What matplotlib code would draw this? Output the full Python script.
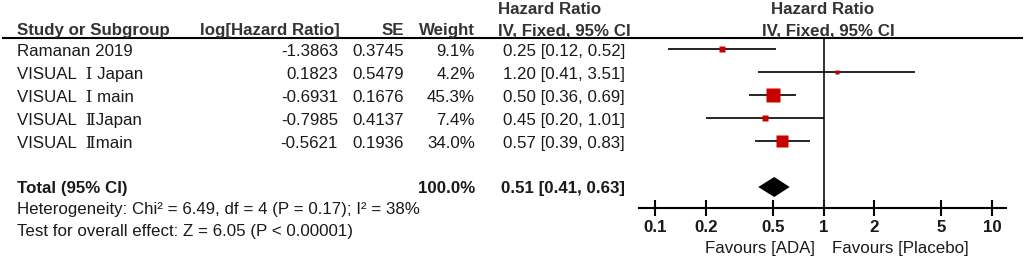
import numpy as np
import matplotlib.pyplot as plt
from matplotlib.lines import Line2D

# study data
studies = ["Ramanan 2019", "VISUAL  Ⅰ Japan", "VISUAL  Ⅰ main", "VISUAL  ⅡJapan", "VISUAL  Ⅱmain"]
log_hr = ["-1.3863", "0.1823", "-0.6931", "-0.7985", "-0.5621"]
se = ["0.3745", "0.5479", "0.1676", "0.4137", "0.1936"]
weight = [9.1, 4.2, 45.3, 7.4, 34.0]
hr = [0.25, 1.20, 0.50, 0.45, 0.57]
ci_low = [0.12, 0.41, 0.36, 0.20, 0.39]
ci_high = [0.52, 3.51, 0.69, 1.01, 0.83]

total_hr, total_low, total_high = 0.51, 0.41, 0.63
heterogeneity = "Heterogeneity: Chi² = 6.49, df = 4 (P = 0.17); I² = 38%"
overall = "Test for overall effect: Z = 6.05 (P < 0.00001)"

ticks = [0.1, 0.2, 0.5, 1, 2, 5, 10]
tick_labels = ["0.1", "0.2", "0.5", "1", "2", "5", "10"]

W, H = 1024, 258
FONT = ["Liberation Sans", "DejaVu Serif", "Noto Sans CJK SC"]
FS = 12.2
TXT = "#1a1a1a"
HDR = "#333333"
RED = "#c80000"

fig = plt.figure(figsize=(W / 100, H / 100), dpi=100)


def put(x, y, s, **kw):
    kw.setdefault("fontsize", FS)
    kw.setdefault("color", TXT)
    fig.text(x / W, 1 - y / H, s, family=FONT, va="center_baseline", **kw)


def row_y(i):
    return 49 + 23 * i


# header
put(17, 29, "Study or Subgroup", fontweight="bold", color=HDR)
put(340, 29, "log[Hazard Ratio]", fontweight="bold", color=HDR, ha="right")
put(404, 29, "SE", fontweight="bold", color=HDR, ha="right")
put(475, 29, "Weight", fontweight="bold", color=HDR, ha="right")
put(550, 8, "Hazard Ratio", fontweight="bold", color=HDR, ha="center")
put(564, 29, "IV, Fixed, 95% CI", fontweight="bold", color=HDR, ha="center")
put(823, 8, "Hazard Ratio", fontweight="bold", color=HDR, ha="center")
put(828, 29, "IV, Fixed, 95% CI", fontweight="bold", color=HDR, ha="center")
fig.add_artist(Line2D([3 / W, 1022 / W], [1 - 38 / H] * 2, color="black", lw=1.5))

# table rows
for i, name in enumerate(studies):
    y = row_y(i) + 1
    put(17, y, name)
    put(338, y, log_hr[i], ha="right")
    put(404, y, se[i], ha="right")
    put(475, y, f"{weight[i]:.1f}%", ha="right")
    put(625, y, f"{hr[i]:.2f} [{ci_low[i]:.2f}, {ci_high[i]:.2f}]", ha="right")

y = row_y(6)
put(17, y, "Total (95% CI)", fontweight="bold")
put(475, y, f"{sum(weight):.1f}%", fontweight="bold", ha="right")
put(625, y, f"{total_hr:.2f} [{total_low:.2f}, {total_high:.2f}]", fontweight="bold", ha="right")
put(17, row_y(7) - 2, heterogeneity)
put(17, row_y(8) - 3, overall)

# forest panel
dec = 168.5
ax = fig.add_axes([639 / W, 1 - 208 / H, 367 / W, 170 / H])
ax.set_xscale("log")
ax.set_xlim(10 ** (-1 - 16 / dec), 10 ** (1 + 14 / dec))
ax.set_ylim((208 - 49) / 23, (38 - 49) / 23)
ax.patch.set_visible(False)
for s in ["top", "left", "right"]:
    ax.spines[s].set_visible(False)
ax.spines["bottom"].set_linewidth(1.5)
ax.set_yticks([])
ax.set_xticks(ticks)
ax.set_xticklabels(tick_labels)
ax.minorticks_off()
ax.tick_params(axis="x", direction="inout", length=12, width=1.5, pad=3, labelsize=FS)
for lab in ax.get_xticklabels():
    lab.set_family(FONT)
    lab.set_fontweight("bold")
    lab.set_color(TXT)

ax.axvline(1, color="#222222", lw=1.3)

rows = np.arange(len(studies))
ax.hlines(rows, ci_low, ci_high, color="black", lw=1.2)
for i in rows:
    side = 14 * np.sqrt(weight[i] / max(weight)) * 0.72
    ax.plot(hr[i], i, marker="s", ms=side, color=RED, mec="none", ls="none")

h = 10 / 23
ax.fill([total_low, total_hr, total_high, total_hr], [6, 6 - h, 6, 6 + h], color="black", lw=0)

put(815, 247, "Favours [ADA]", ha="right")
put(832, 247, "Favours [Placebo]", ha="left")

fig.savefig("out.png", dpi=100)
